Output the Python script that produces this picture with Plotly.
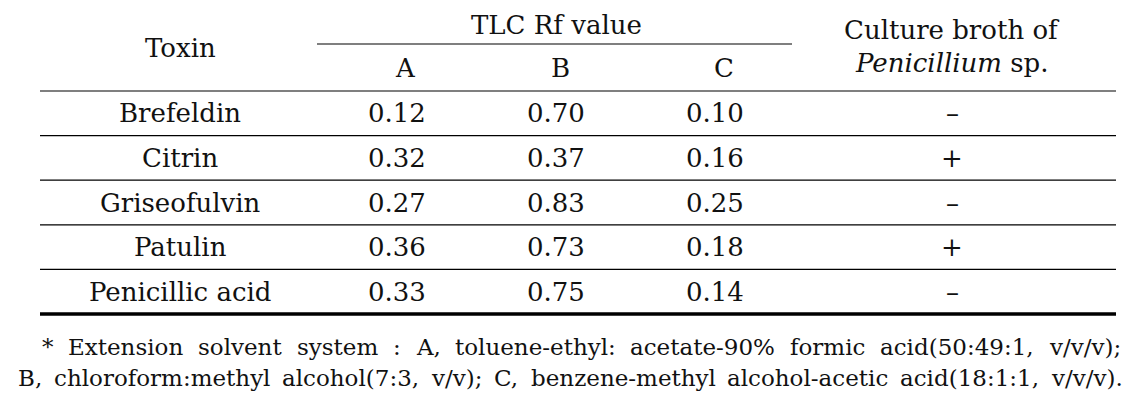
import plotly.graph_objects as go

# ---- data ----
toxins = ["Brefeldin", "Citrin", "Griseofulvin", "Patulin", "Penicillic acid"]
rf_a = [0.12, 0.32, 0.27, 0.36, 0.33]
rf_b = [0.70, 0.37, 0.83, 0.73, 0.75]
rf_c = [0.10, 0.16, 0.25, 0.18, 0.14]
culture = ["–", "+", "–", "+", "–"]
solvent_labels = ["A", "B", "C"]
header_toxin = "Toxin"
header_tlc = "TLC Rf value"
header_culture = ["Culture broth of", "<i>Penicillium</i> sp."]

foot1_words = ["*", "Extension", "solvent", "system", ":", "A,", "toluene-ethyl:",
               "acetate-90%", "formic", "acid(50:49:1,", "v/v/v);"]
foot2_words = ["B,", "chloroform:methyl", "alcohol(7:3,", "v/v);", "C,",
               "benzene-methyl", "alcohol-acetic", "acid(18:1:1,", "v/v/v)."]

# ---- layout constants (pixels in the page) ----
PAGE_OFF = 8          # default body margin of the html page
W, H = 1140, 411
FONT = "DejaVu Serif"
FS = 26
FS_FOOT = 23
X_LEFT, X_RIGHT = 40, 1116
Y_TOP = 6
Y_TLC_RULE = 44
Y_HEAD_BOTTOM = 91
ROW_H = 44.6
col_toxin = 180
col_vals = [397, 556, 715]
col_heads = [405, 560, 724]
col_culture = 952
foot_spans = [(40, 1118), (16, 1120)]
foot_y = [347, 378]

# DejaVu Serif advance widths (1/1000 em), used to justify the footnote
CW = {" ": 318, "%": 950, "(": 390, ")": 390, "*": 500, ",": 318, "-": 338, ".": 318,
      "/": 337, ":": 337, ";": 337, "A": 722, "B": 735, "C": 765, "E": 729}
for d in "0123456789":
    CW[d] = 636
CW.update({"a": 596, "b": 640, "c": 560, "d": 640, "e": 592, "f": 370, "h": 644,
           "i": 320, "l": 320, "m": 948, "n": 644, "o": 602, "r": 478, "s": 513,
           "t": 402, "u": 644, "v": 565, "x": 564, "y": 565, "z": 524})


def word_w(w, size):
    return sum(CW.get(ch, 600) for ch in w) * size / 1000.0


fig = go.Figure()
fig.add_trace(go.Scatter(x=[], y=[], showlegend=False, hoverinfo="skip"))

annotations = []


def txt(x, y, text, size=FS, xanchor="center"):
    annotations.append(dict(x=x, y=y, xref="x", yref="y", text=text, showarrow=False,
                            xanchor=xanchor, yanchor="middle",
                            font=dict(family=FONT, size=size, color="#111111")))


# header
txt(col_toxin, 48, header_toxin)
txt((col_heads[0] + col_heads[2]) / 2 - 8, 25, header_tlc)
for x, lab in zip(col_heads, solvent_labels):
    txt(x, 68, lab)
txt(col_culture, 30, header_culture[0])
txt(col_culture, 63, header_culture[1])

# body
for i, name in enumerate(toxins):
    yc = Y_HEAD_BOTTOM + ROW_H * (i + 0.5)
    txt(col_toxin, yc, name)
    for x, arr in zip(col_vals, (rf_a, rf_b, rf_c)):
        txt(x, yc, f"{arr[i]:.2f}")
    txt(col_culture, yc, culture[i])

# footnote, justified word by word between the line ends
for words, (x0, x1), y in zip((foot1_words, foot2_words), foot_spans, foot_y):
    widths = [word_w(w, FS_FOOT) for w in words]
    gap = max(6.0, (x1 - x0 - sum(widths)) / (len(words) - 1))
    x = x0
    for w, ww in zip(words, widths):
        txt(x, y, w, size=FS_FOOT, xanchor="left")
        x += ww + gap

shapes = []


def hline(x0, x1, y, width):
    shapes.append(dict(type="line", xref="x", yref="y", x0=x0, x1=x1, y0=y, y1=y,
                       line=dict(color="#000000", width=width)))


hline(X_LEFT, X_RIGHT, Y_TOP, 3.5)
hline(317, 792, Y_TLC_RULE, 1.2)
hline(X_LEFT, X_RIGHT, Y_HEAD_BOTTOM, 1.2)
for i in range(1, len(toxins)):
    hline(X_LEFT, X_RIGHT, Y_HEAD_BOTTOM + ROW_H * i, 1.2)
hline(X_LEFT, X_RIGHT, Y_HEAD_BOTTOM + ROW_H * len(toxins), 3.5)

fig.update_layout(
    width=W - PAGE_OFF, height=H - PAGE_OFF,
    margin=dict(l=0, r=0, t=0, b=0),
    paper_bgcolor="white", plot_bgcolor="white",
    font=dict(family=FONT),
    xaxis=dict(range=[PAGE_OFF, W], visible=False, fixedrange=True),
    yaxis=dict(range=[H, PAGE_OFF], visible=False, fixedrange=True),
    annotations=annotations, shapes=shapes, showlegend=False,
)
fig.write_html("out.html", config={"displayModeBar": False})
